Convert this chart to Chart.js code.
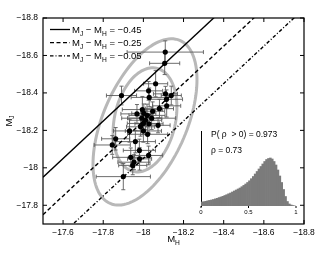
<!DOCTYPE html>
<html>
<head>
<meta charset="utf-8">
<script src="https://cdn.jsdelivr.net/npm/chart.js@4.4.1/dist/chart.umd.min.js"></script>
<style>
  body { margin: 0; background: #fff; }
  #wrap { position: relative; width: 336px; height: 253px; }
  #main { position: absolute; left: 0; top: 0; }
  #inset { position: absolute; left: 190px; top: 124px; }
</style>
</head>
<body>
<div id="wrap">
  <canvas id="main" width="336" height="253"></canvas>
  <canvas id="inset" width="115" height="100"></canvas>
</div>
<script>
// galaxy absolute magnitudes
const mH = [-18.109, -18.106, -17.891, -18.061, -18.026, -18.029, -18.110, -18.139, -18.115, -18.116,
            -17.995, -17.968, -18.002, -18.018, -18.046, -18.080, -18.041, -17.992, -18.000, -18.028,
            -18.073, -17.931, -18.000, -18.021, -17.862, -17.845, -17.960, -17.980, -18.026, -17.937,
            -17.981, -17.953, -17.947, -17.900, -17.986, -18.011];
const mJ = [-18.618, -18.558, -18.386, -18.449, -18.411, -18.376, -18.395, -18.386, -18.366, -18.331,
            -18.311, -18.288, -18.291, -18.280, -18.302, -18.316, -18.265, -18.265, -18.237, -18.235,
            -18.227, -18.197, -18.197, -18.179, -18.155, -18.122, -18.140, -18.093, -18.066, -18.056,
            -18.048, -18.030, -18.013, -17.953, -18.219, -18.254];
const errH = [0.19, 0.075, 0.075, 0.06, 0.07, 0.09, 0.06, 0.05, 0.08, 0.07,
              0.10, 0.08, 0.06, 0.09, 0.06, 0.07, 0.12, 0.10, 0.08, 0.07,
              0.06, 0.08, 0.09, 0.10, 0.07, 0.09, 0.10, 0.08, 0.07, 0.09,
              0.06, 0.08, 0.07, 0.135, 0.07, 0.08];
const errJ = [0.06, 0.06, 0.05, 0.07, 0.05, 0.05, 0.04, 0.05, 0.05, 0.06,
              0.07, 0.05, 0.05, 0.06, 0.05, 0.05, 0.06, 0.05, 0.06, 0.05,
              0.04, 0.06, 0.06, 0.05, 0.06, 0.05, 0.06, 0.06, 0.05, 0.05,
              0.06, 0.04, 0.05, 0.07, 0.05, 0.05];

// colour lines M_J - M_H = const
const colourOffsets = [-0.45, -0.25, -0.05];
const colourLabels = ['\u22120.45', '\u22120.25', '\u22120.05'];
const colourDashes = [[], [4, 2.5], [3.5, 2, 1, 2]];

// contours: centre H, centre J, sd H, sd J, correlation
const ellipses = [
  [-18.008, -18.245, 0.259, 0.444, 0.51],
  [-18.008, -18.256, 0.159, 0.278, 0.24]
];

const xRange = [-18.8, -17.5];
const yRange = [-18.8, -17.7];

// posterior of rho (inset)
const rhoBins = [0.01, 0.03, 0.05, 0.07, 0.09, 0.11, 0.13, 0.15, 0.17, 0.19,
                 0.21, 0.23, 0.25, 0.27, 0.29, 0.31, 0.33, 0.35, 0.37, 0.39,
                 0.41, 0.43, 0.45, 0.47, 0.49, 0.51, 0.53, 0.55, 0.57, 0.59,
                 0.61, 0.63, 0.65, 0.67, 0.69, 0.71, 0.73, 0.75, 0.77, 0.79,
                 0.81, 0.83, 0.85, 0.87, 0.89, 0.91, 0.93, 0.95, 0.97, 0.99];
const rhoCounts = [4.0, 4.3, 4.7, 5.2, 5.6, 6.0, 6.5, 7.1, 7.7, 8.4,
                   9.0, 9.7, 10.5, 11.3, 12.2, 13.0, 14.0, 15.0, 16.0, 17.0,
                   18.0, 19.3, 20.6, 22.0, 23.5, 25.2, 27.3, 29.5, 32.0, 34.5,
                   37.0, 39.5, 42.0, 44.5, 46.5, 47.5, 48.0, 47.0, 44.5, 41.0,
                   36.0, 30.0, 23.5, 16.5, 9.5, 4.5, 2.0, 1.0, 0.5, 0];
const rhoTicks = [0, 0.5, 1];

const FONT = "'Liberation Sans', Arial, sans-serif";

function fmt(v) {
  return String(Math.round(v * 10) / 10).replace('-', '\u2212');
}

// text with subscripts: segments = [[text, isSub], ...]
function richWidth(ctx, segs, size) {
  let w = 0;
  segs.forEach(s => {
    ctx.font = (s[1] ? size * 0.7 : size) + 'px ' + FONT;
    w += ctx.measureText(s[0]).width;
  });
  return w;
}
function drawRich(ctx, x, y, segs, size) {
  segs.forEach(s => {
    ctx.font = (s[1] ? size * 0.7 : size) + 'px ' + FONT;
    ctx.fillText(s[0], x, s[1] ? y + size * 0.3 : y);
    x += ctx.measureText(s[0]).width;
  });
}

const decor = {
  id: 'decor',
  beforeDatasetsDraw(chart) {
    const ctx = chart.ctx, xs = chart.scales.x, ys = chart.scales.y, a = chart.chartArea;
    ctx.save();
    ctx.beginPath();
    ctx.rect(a.left, a.top, a.right - a.left, a.bottom - a.top);
    ctx.clip();
    // contours
    ctx.strokeStyle = '#b8b8b8';
    ctx.lineWidth = 3;
    ellipses.forEach(e => {
      ctx.beginPath();
      for (let i = 0; i <= 120; i++) {
        const t = i / 120 * Math.PI * 2;
        const hx = e[0] + e[2] * Math.cos(t);
        const jy = e[1] + e[3] * (e[4] * Math.cos(t) + Math.sqrt(1 - e[4] * e[4]) * Math.sin(t));
        const px = xs.getPixelForValue(hx), py = ys.getPixelForValue(jy);
        if (i === 0) ctx.moveTo(px, py); else ctx.lineTo(px, py);
      }
      ctx.stroke();
    });
    // error bars
    ctx.strokeStyle = '#5c5c5c';
    ctx.lineWidth = 0.9;
    const cap = 2;
    mH.forEach((h, i) => {
      const px = xs.getPixelForValue(h), py = ys.getPixelForValue(mJ[i]);
      const x1 = xs.getPixelForValue(h - errH[i]), x2 = xs.getPixelForValue(h + errH[i]);
      const y1 = ys.getPixelForValue(mJ[i] - errJ[i]), y2 = ys.getPixelForValue(mJ[i] + errJ[i]);
      ctx.beginPath();
      ctx.moveTo(x1, py); ctx.lineTo(x2, py);
      ctx.moveTo(x1, py - cap); ctx.lineTo(x1, py + cap);
      ctx.moveTo(x2, py - cap); ctx.lineTo(x2, py + cap);
      ctx.moveTo(px, y1); ctx.lineTo(px, y2);
      ctx.moveTo(px - cap, y1); ctx.lineTo(px + cap, y1);
      ctx.moveTo(px - cap, y2); ctx.lineTo(px + cap, y2);
      ctx.stroke();
    });
    ctx.restore();
  },
  afterDraw(chart) {
    const ctx = chart.ctx, xs = chart.scales.x, ys = chart.scales.y, a = chart.chartArea;
    ctx.save();
    // frame and inward ticks on all sides
    ctx.strokeStyle = '#000';
    ctx.lineWidth = 1.2;
    ctx.strokeRect(a.left, a.top, a.right - a.left, a.bottom - a.top);
    ctx.lineWidth = 1;
    ctx.beginPath();
    xs.ticks.forEach(t => {
      const p = xs.getPixelForValue(t.value);
      ctx.moveTo(p, a.bottom); ctx.lineTo(p, a.bottom - 4);
      ctx.moveTo(p, a.top); ctx.lineTo(p, a.top + 4);
    });
    ys.ticks.forEach(t => {
      const p = ys.getPixelForValue(t.value);
      ctx.moveTo(a.left, p); ctx.lineTo(a.left + 4, p);
      ctx.moveTo(a.right, p); ctx.lineTo(a.right - 4, p);
    });
    ctx.stroke();

    // legend
    ctx.fillStyle = '#000';
    ctx.textBaseline = 'alphabetic';
    const size = 9.5;
    colourOffsets.forEach((c, i) => {
      const yy = 29.5 + i * 13.2;
      ctx.beginPath();
      ctx.setLineDash(colourDashes[i]);
      ctx.lineWidth = 1.3;
      ctx.moveTo(50, yy); ctx.lineTo(70, yy);
      ctx.stroke();
      ctx.setLineDash([]);
      drawRich(ctx, 72, yy + 3.5,
        [['M', false], ['J', true], [' \u2212 M', false], ['H', true], [' = ' + colourLabels[i], false]], size);
    });

    // axis titles
    const xt = [['M', false], ['H', true]];
    const xw = richWidth(ctx, xt, size);
    drawRich(ctx, (a.left + a.right) / 2 - xw / 2, 242, xt, size);
    const yt = [['M', false], ['J', true]];
    const yw = richWidth(ctx, yt, size);
    ctx.translate(11.5, (a.top + a.bottom) / 2);
    ctx.rotate(-Math.PI / 2);
    drawRich(ctx, -yw / 2, 0, yt, size);
    ctx.restore();
  }
};

new Chart(document.getElementById('main'), {
  data: {
    datasets: [
      {
        type: 'scatter',
        data: mH.map((h, i) => ({ x: h, y: mJ[i] })),
        pointRadius: 2.6,
        pointBackgroundColor: '#000',
        pointBorderWidth: 0
      },
      ...colourOffsets.map((c, i) => ({
        type: 'line',
        data: [{ x: xRange[1], y: xRange[1] + c }, { x: xRange[0], y: xRange[0] + c }],
        borderColor: '#000',
        borderWidth: 1.4,
        borderDash: colourDashes[i],
        pointRadius: 0,
        fill: false
      }))
    ]
  },
  options: {
    responsive: false,
    animation: false,
    layout: { padding: { left: 0, top: 18, right: 32, bottom: 0 } },
    plugins: { legend: { display: false }, tooltip: { enabled: false } },
    scales: {
      x: {
        type: 'linear', min: xRange[0], max: xRange[1], reverse: true,
        grid: { display: false, drawTicks: false },
        border: { display: false },
        ticks: { stepSize: 0.2, includeBounds: false, padding: 4, color: '#000',
                 font: { size: 8.5, family: FONT }, maxRotation: 0, callback: v => fmt(v) },
        afterFit: s => { s.height = 29; }
      },
      y: {
        type: 'linear', min: yRange[0], max: yRange[1], reverse: true,
        grid: { display: false, drawTicks: false },
        border: { display: false },
        ticks: { stepSize: 0.2, includeBounds: false, padding: 5, color: '#000',
                 font: { size: 8.5, family: FONT }, callback: v => fmt(v) },
        afterFit: s => { s.width = 43; }
      }
    }
  },
  plugins: [decor]
});

// inset: posterior of rho
const insetText = {
  id: 'insetText',
  afterDraw(chart) {
    const ctx = chart.ctx, xs = chart.scales.x, a = chart.chartArea;
    ctx.save();
    ctx.fillStyle = '#000';
    ctx.textBaseline = 'middle';
    ctx.font = '8.5px ' + FONT;
    ctx.fillText('P( \u03c1  > 0) = 0.973', 21, 10.5);
    ctx.fillText('\u03c1 = 0.73', 21, 26.5);
    ctx.strokeStyle = '#000';
    ctx.lineWidth = 1;
    ctx.beginPath();
    rhoTicks.forEach(t => {
      const p = xs.getPixelForValue(t);
      ctx.moveTo(p, a.bottom); ctx.lineTo(p, a.bottom + 2);
    });
    ctx.stroke();
    ctx.restore();
  }
};

new Chart(document.getElementById('inset'), {
  type: 'bar',
  data: {
    datasets: [{
      data: rhoBins.map((r, i) => ({ x: r, y: rhoCounts[i] })),
      backgroundColor: '#7b7b7b',
      borderWidth: 0,
      barPercentage: 1,
      categoryPercentage: 1
    }]
  },
  options: {
    responsive: false,
    animation: false,
    layout: { padding: { left: 11, top: 7, right: 9, bottom: 0 } },
    plugins: { legend: { display: false }, tooltip: { enabled: false } },
    scales: {
      x: {
        type: 'linear', min: 0, max: 1, offset: false,
        grid: { display: false, drawTicks: false, offset: false },
        border: { display: false },
        ticks: { stepSize: 0.5, padding: 3, color: '#000', maxRotation: 0,
                 font: { size: 6, family: FONT }, callback: v => String(v) },
        afterFit: s => { s.height = 18; }
      },
      y: {
        min: 0, max: 75,
        grid: { display: false, drawTicks: false },
        border: { display: true, color: '#000', width: 1 },
        ticks: { display: false },
        afterFit: s => { s.width = 0; }
      }
    }
  },
  plugins: [insetText]
});
</script>
</body>
</html>
